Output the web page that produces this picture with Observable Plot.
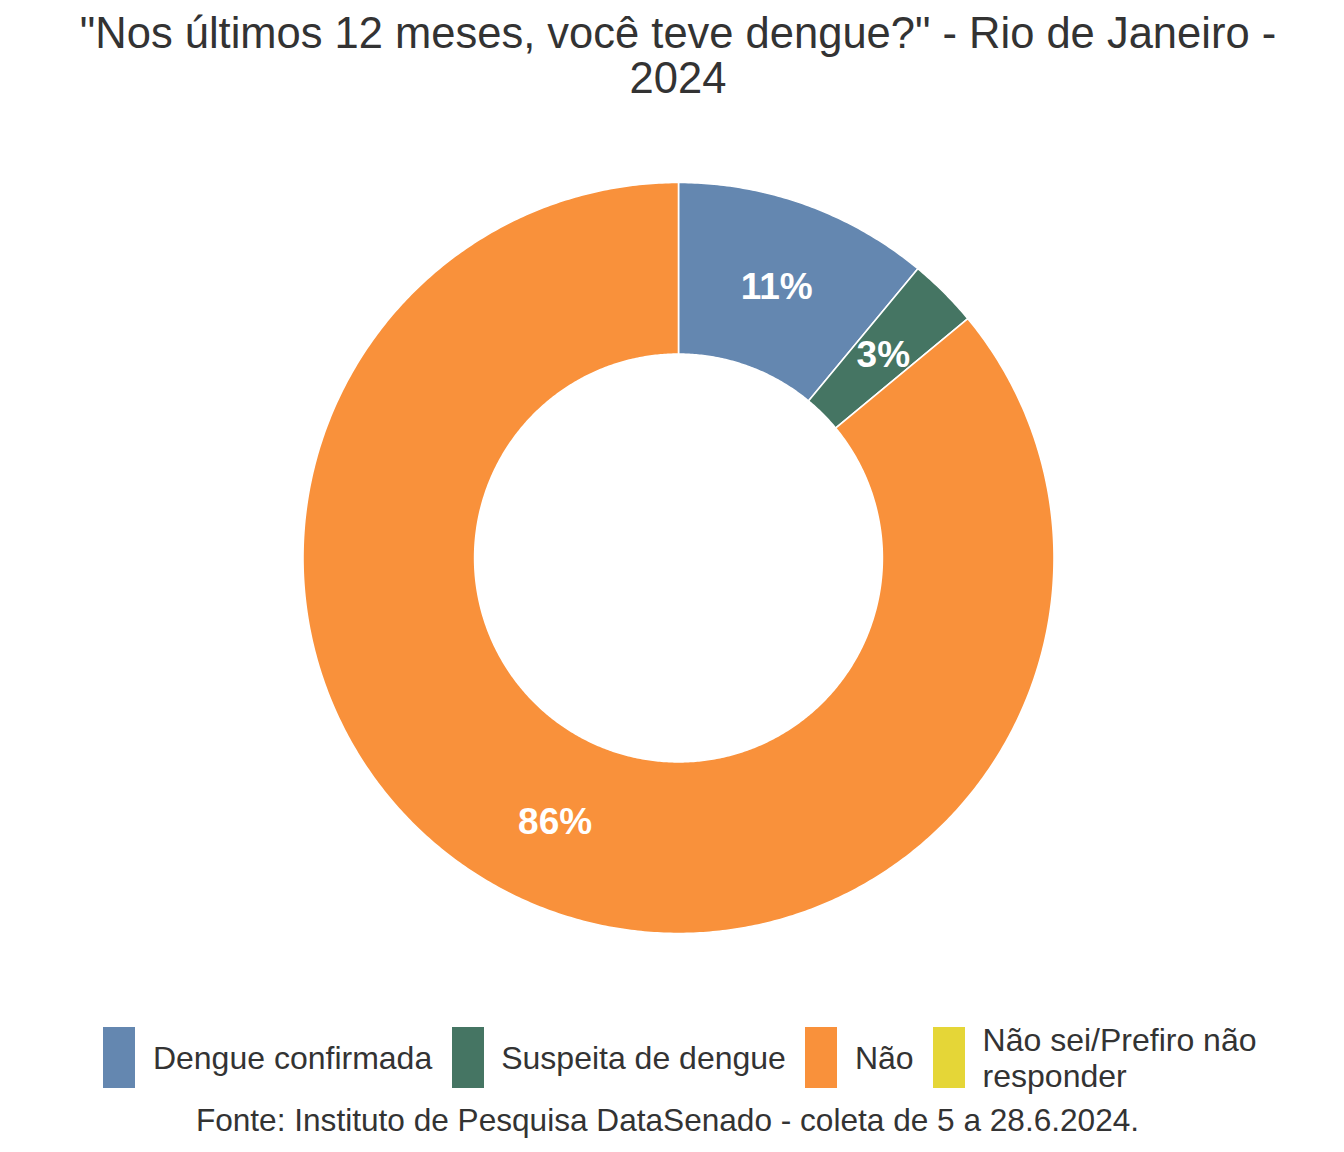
<!DOCTYPE html>
<html>
<head>
<meta charset="utf-8">
<script src="https://cdn.jsdelivr.net/npm/d3@7"></script>
<script src="https://cdn.jsdelivr.net/npm/@observablehq/plot@0.6"></script>
<style>
  html, body { margin: 0; padding: 0; background: #fff; }
  body { width: 1344px; font-family: "Liberation Sans", Arial, sans-serif; color: #333; }
  #title { height: 110px; box-sizing: border-box; padding-top: 11px; padding-left: 12px; font-size: 43.5px; line-height: 45px; text-align: center; }
  #legend { height: 78px; box-sizing: border-box; padding-top: 17px; padding-left: 17px; display: flex; justify-content: center; align-items: center; }
  .item { display: flex; align-items: center; }
  .sw { width: 32px; height: 61px; margin-right: 17.5px; flex: none; }
  .lab { font-size: 32px; line-height: 36px; margin-right: 19.5px; }
  .item:last-child .lab { margin-right: 0; max-width: 275px; }
  #caption { margin-top: 14px; padding-right: 9px; font-size: 31.6px; line-height: 36px; text-align: center; }
  svg { display: block; }
</style>
</head>
<body>
<div id="title">"Nos últimos 12 meses, você teve dengue?" - Rio de Janeiro -<br>2024</div>
<div id="chart"></div>
<div id="legend"></div>
<div id="caption">Fonte: Instituto de Pesquisa DataSenado - coleta de 5 a 28.6.2024.</div>
<script>
const categories = ["Dengue confirmada", "Suspeita de dengue", "Não", "Não sei/Prefiro não responder"];
const values = [11, 3, 86, 0];
const colors = ["#6487b0", "#457563", "#f9913b", "#e5d637"];

const innerRatio = 0.543;
const table = categories.map((c, i) => ({category: c, value: values[i]}));
const arcs = d3.pie().sort(null).value(d => d.value).startAngle(0).endAngle(2 * Math.PI)(table);

function ring(a0, a1) {
  const n = Math.max(2, Math.ceil((a1 - a0) / (Math.PI / 360)));
  const pts = [];
  for (let k = 0; k <= n; k++) {
    const a = a0 + (a1 - a0) * k / n;
    pts.push([Math.sin(a), Math.cos(a)]);
  }
  for (let k = n; k >= 0; k--) {
    const a = a0 + (a1 - a0) * k / n;
    pts.push([innerRatio * Math.sin(a), innerRatio * Math.cos(a)]);
  }
  pts.push(pts[0]);
  return pts;
}

const features = arcs.filter(a => a.data.value > 0).map(a => ({
  type: "Feature",
  properties: {category: a.data.category, value: a.data.value},
  geometry: {type: "Polygon", coordinates: [ring(a.startAngle, a.endAngle)]}
}));

const midR = (1 + innerRatio) / 2;
const labels = arcs.filter(a => a.data.value > 0).map(a => {
  const m = (a.startAngle + a.endAngle) / 2;
  return {x: midR * Math.sin(m), y: midR * Math.cos(m), text: a.data.value + "%"};
});

const chart = Plot.plot({
  width: 1344,
  height: 900,
  marginLeft: 302,
  marginRight: 290,
  marginTop: 72,
  marginBottom: 77,
  projection: {type: "reflect-y", domain: {type: "MultiPoint", coordinates: [[-1, -1], [1, 1]]}, inset: 0},
  color: {domain: categories, range: colors},
  style: {background: "transparent"},
  marks: [
    Plot.geo(features, {fill: d => d.properties.category, stroke: "white", strokeWidth: 1.6}),
    Plot.text(labels, {x: "x", y: "y", text: "text", fill: "white", fontSize: 37, fontWeight: "bold", dy: 2, fontFamily: "Liberation Sans, Arial, sans-serif"})
  ]
});
document.getElementById("chart").appendChild(chart);

const legend = d3.select("#legend");
categories.forEach((c, i) => {
  const it = legend.append("div").attr("class", "item");
  it.append("div").attr("class", "sw").style("background", colors[i]);
  it.append("span").attr("class", "lab").text(c);
});
</script>
</body>
</html>
